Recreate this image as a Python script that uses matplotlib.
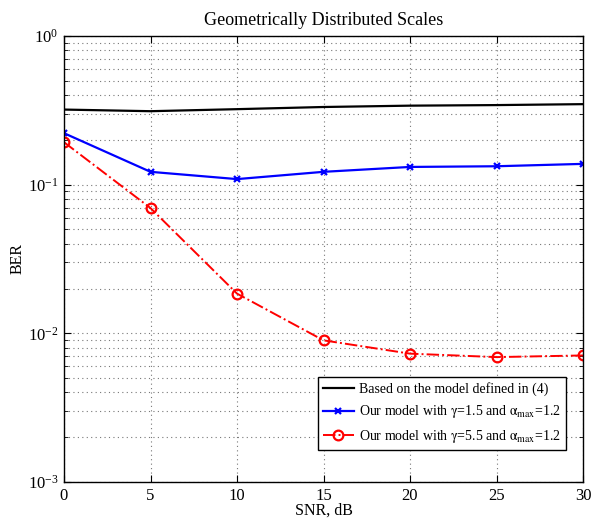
import matplotlib
matplotlib.use("Agg")
import matplotlib.pyplot as plt
from matplotlib.ticker import LogLocator, NullFormatter

plt.rcParams['font.family'] = ['Liberation Serif', 'DejaVu Serif']
plt.rcParams['mathtext.fontset'] = 'stix'

snr = [0, 5, 10, 15, 20, 25, 30]
ber_base = [0.32, 0.312, 0.322, 0.333, 0.34, 0.343, 0.348]
ber_g15 = [0.222, 0.122, 0.109, 0.122, 0.1316, 0.133, 0.138]
ber_g55 = [0.193, 0.0696, 0.0185, 0.00897, 0.0073, 0.00692, 0.0071]

labels = ['Based on the model defined in (4)',
          r'Our model with $\mathrm{\gamma}$=1.5 and $\mathrm{\alpha_{max}}$=1.2',
          r'Our model with $\mathrm{\gamma}$=5.5 and $\mathrm{\alpha_{max}}$=1.2']

fig = plt.figure(figsize=(5.93, 5.19), dpi=100)
ax = fig.add_axes([64/593, 1-482/519, (583-64)/593, (482-36)/519])

ax.semilogy(snr, ber_base, '-', color='black', lw=1.6, label=labels[0])
ax.semilogy(snr, ber_g15, '-', color='blue', lw=1.6, marker='x', ms=5, mew=1.6, label=labels[1])
ax.semilogy(snr, ber_g55, '-.', color='red', lw=1.4, marker='o', ms=7, mfc='none', mew=1.6, label=labels[2])

ax.set_xlim(0, 30)
ax.set_ylim(1e-3, 1)
ax.set_xticks(snr)
ax.yaxis.set_major_locator(LogLocator(base=10, numticks=10))
ax.yaxis.set_minor_locator(LogLocator(base=10, subs=range(2, 10), numticks=20))
ax.yaxis.set_minor_formatter(NullFormatter())

gkw = dict(linestyle=(0, (1, 3)), color='#777777', lw=0.8)
ax.grid(True, which='major', **gkw)
ax.grid(True, which='minor', axis='y', **gkw)
ax.tick_params(which='both', direction='in', top=True, right=True, labelsize=12)
ax.tick_params(which='major', length=5, pad=4)
ax.tick_params(which='minor', length=3)
for s in ax.spines.values():
    s.set_linewidth(1.0)

ax.set_title('Geometrically Distributed Scales', fontsize=13, pad=8)
ax.set_xlabel('SNR, dB', fontsize=11.5, labelpad=-1)
ax.set_ylabel('BER', fontsize=11.5, labelpad=1.5)

leg = ax.legend(loc='lower right', bbox_to_anchor=(0.967, 0.072), fontsize=10,
                fancybox=False, edgecolor='black', framealpha=1,
                borderpad=0.35, labelspacing=0.55, handlelength=2.2, handletextpad=0.4,
                borderaxespad=0)
leg.get_frame().set_linewidth(1.0)

fig.savefig('out.png', dpi=100)
